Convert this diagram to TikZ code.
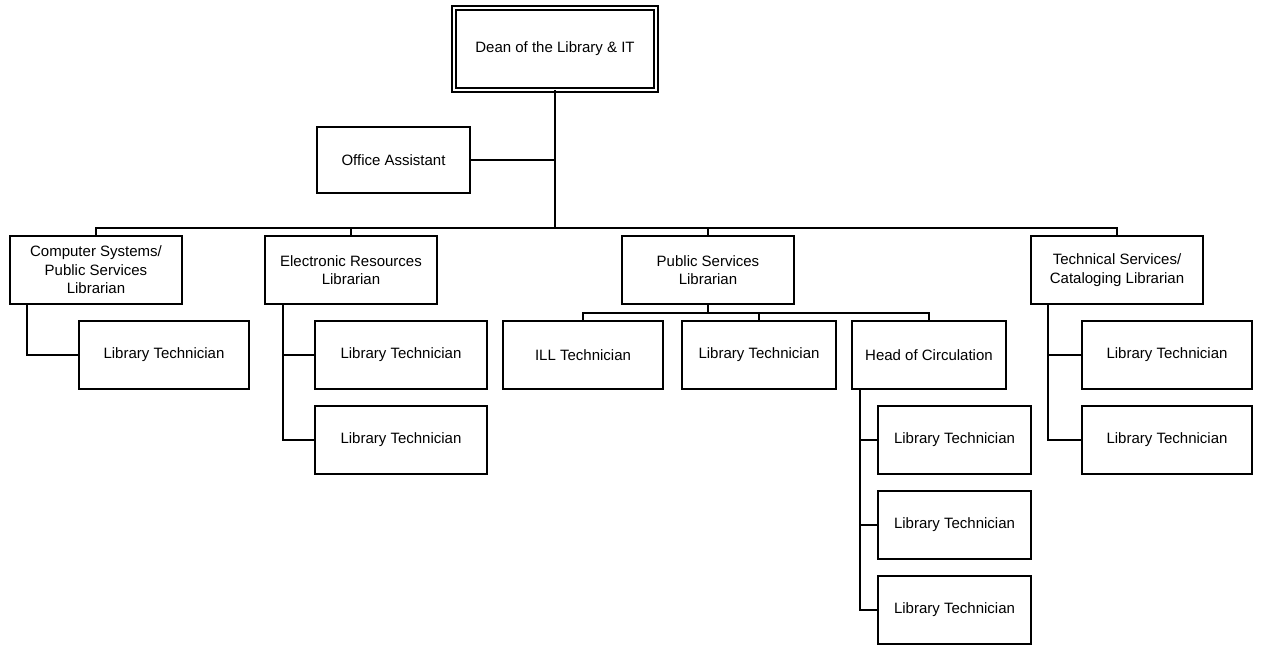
\documentclass[tikz,border=0pt]{standalone}
\usepackage{fontspec}
\setmainfont{Liberation Sans}
\usetikzlibrary{positioning}
\usetikzlibrary{calc}

\begin{document}
\begin{tikzpicture}[x=1pt,y=-1pt,line width=2pt,
	font=\fontsize{15}{18.5}\selectfont,
	box/.style={draw,rectangle,anchor=north west,align=center,inner sep=0pt,outer sep=0pt,minimum height=68pt},
	deanbox/.style={box,double,double distance=2pt,line width=2pt}]
					\useasboundingbox (0,0) rectangle (1261,646);

					% top of the chart
					\node [deanbox,minimum width=202pt,minimum height=82pt] (dean) at (454,8) {Dean of the Library \& IT};
					\node [box,minimum width=153pt,minimum height=66pt] (office) at (317,127) {Office Assistant};

					% librarians
					\node [box,minimum width=172pt] (cs) at (10,236) {Computer Systems/\\Public Services\\Librarian};
					\node [box,minimum width=172pt] (er) at (265,236) {Electronic Resources\\Librarian};
					\node [box,minimum width=172pt] (ps) at (622,236) {Public Services\\Librarian};
					\node [box,minimum width=172pt] (ts) at (1031,236) {Technical Services/\\Cataloging Librarian};

					% staff
					\node [box,minimum width=170pt] (cslt) at (79,321) {Library Technician};
					\node [box,minimum width=172pt] (erlta) at (315,321) {Library Technician};
					\node [box,minimum width=172pt] (erltb) at (315,406) {Library Technician};
					\node [box,minimum width=160pt] (ill) at (503,321) {ILL Technician};
					\node [box,minimum width=154pt] (pslt) at (682,321) {Library Technician};
					\node [box,minimum width=154pt] (hoc) at (852,321) {Head of Circulation};
					\node [box,minimum width=153pt] (hocla) at (878,406) {Library Technician};
					\node [box,minimum width=153pt] (hoclb) at (878,491) {Library Technician};
					\node [box,minimum width=153pt] (hoclc) at (878,576) {Library Technician};
					\node [box,minimum width=170pt] (tslta) at (1082,321) {Library Technician};
					\node [box,minimum width=170pt] (tsltb) at (1082,406) {Library Technician};

					\coordinate (bus) at ($(dean.south)+(0,138)$);
					\coordinate (psbus) at ($(ps.south)+(0,9)$);

					\draw (dean.south) -- (bus);
					\draw (office.east) -- (office.east -| dean.south);
					\draw (bus) -| (cs.north);
					\draw (bus) -| (er.north);
					\draw (bus) -| (ps.north);
					\draw (bus) -| (ts.north);

					\draw ([xshift=17pt]cs.south west) |- (cslt.west);
					\draw ([xshift=18pt]er.south west) |- (erlta.west);
					\draw ([xshift=18pt]er.south west) |- (erltb.west);

					\draw (ps.south) -- (psbus);
					\draw (psbus) -| (ill.north);
					\draw (psbus) -| (pslt.north);
					\draw (psbus) -| (hoc.north);

					\draw ([xshift=8pt]hoc.south west) |- (hocla.west);
					\draw ([xshift=8pt]hoc.south west) |- (hoclb.west);
					\draw ([xshift=8pt]hoc.south west) |- (hoclc.west);

					\draw ([xshift=17pt]ts.south west) |- (tslta.west);
					\draw ([xshift=17pt]ts.south west) |- (tsltb.west);
				\end{tikzpicture}
\end{document}
